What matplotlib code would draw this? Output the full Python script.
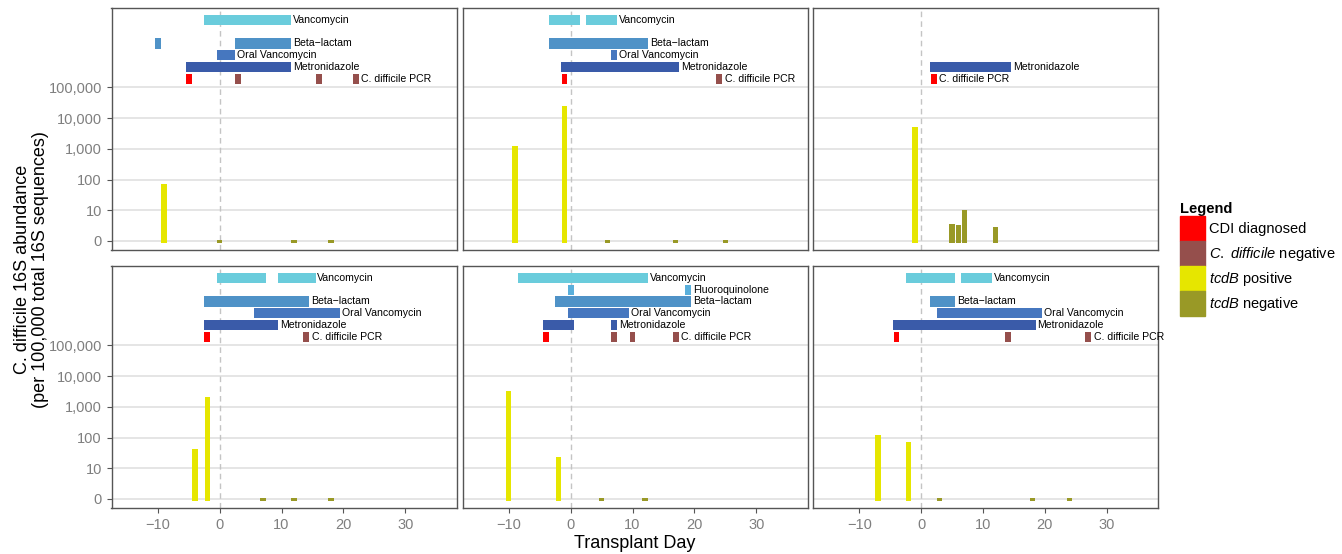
import numpy as np
import matplotlib
matplotlib.use("Agg")
import matplotlib.pyplot as plt
from matplotlib.patches import Patch

plt.rcParams['font.family'] = ['Liberation Sans', 'DejaVu Sans']
plt.rcParams['mathtext.fontset'] = 'custom'
plt.rcParams['mathtext.it'] = 'Liberation Sans:italic'
plt.rcParams['mathtext.rm'] = 'Liberation Sans'

# treatment courses per panel (first day, last day), panels in reading order
vanc = [[(-2, 11)], [(-3, 1), (3, 7)], [], [(0, 7), (10, 15)], [(-8, 12)], [(-2, 5), (7, 11)]]
fluoro = [[], [], [], [], [(0, 0), (19, 19)], []]
beta = [[(-10, -10), (3, 11)], [(-3, 12)], [], [(-2, 14)], [(-2, 19)], [(2, 5)]]
oral_vanc = [[(0, 2)], [(7, 7)], [], [(6, 19)], [(0, 9)], [(3, 19)]]
metro = [[(-5, 11)], [(-1, 17)], [(2, 14)], [(-2, 9)], [(-4, 0), (7, 7)], [(-4, 18)]]

# C. difficile PCR results
cdi_day = [-5, -1, 2, -2, -4, -4]
pcr_neg_days = [[3, 16, 22], [24], [], [14], [7, 10, 17], [14, 27]]

# 16S samples
sample_days = [[-9, 0, 12, 18], [-9, -1, 6, 17, 25], [-1, 5, 6, 7, 12],
               [-4, -2, 7, 12, 18], [-10, -2, 5, 12], [-7, -2, 3, 18, 24]]
abundance = [[73, 0, 0, 0], [1230, 24500, 0, 0, 0], [5150, 2.7, 2.2, 9.5, 1.9],
             [42, 2050, 0, 0, 0], [3350, 23, 0, 0], [122, 70, 0, 0, 0]]
tcdb_pos = [[1, 0, 0, 0], [1, 1, 0, 0, 0], [1, 0, 0, 0, 0],
            [1, 1, 0, 0, 0], [1, 1, 0, 0], [1, 1, 0, 0, 0]]

ytick_labels = ['0', '10', '100', '1,000', '10,000', '100,000']
xticks = [-10, 0, 10, 20, 30]

row_names = ['Metronidazole', 'Oral Vancomycin', 'Beta\u2212lactam', 'Fluoroquinolone', 'Vancomycin']
row_colors = ['#3a5ba9', '#4677bf', '#4f92c7', '#5aafdb', '#6accdc']
c_red, c_brown, c_yellow, c_olive = '#ff0000', '#954f4c', '#e6e600', '#999926'

W, H = 1342, 554
fig = plt.figure(figsize=(W / 100, H / 100), dpi=100)

lefts = [111.5, 462.5, 813]
tops = [8.3, 266.3]
pw, ph = 345, 241.6
row0 = 5.27
rstep = 0.385
rh = 0.33

for i in range(6):
    r, c = divmod(i, 3)
    l, t = lefts[c], tops[r]
    ax = fig.add_axes([l / W, 1 - (t + ph) / H, pw / W, ph / H])
    ax.set_xlim(-17.5, 38.3)
    ax.set_ylim(-0.29, 7.57)
    ax.set_yticks(range(6))
    ax.set_xticks(xticks)
    ax.yaxis.grid(True, color='#dedede', lw=1.1, zorder=0)
    ax.set_axisbelow(True)
    for s in ax.spines.values():
        s.set_color('#555555')
        s.set_linewidth(1.0)
    ax.axvline(0, color='#c4c4c4', lw=1.0, ls=(0, (4, 3)), zorder=1)

    # abundance bars
    vals = np.log10(np.array(abundance[i], dtype=float) + 1)
    cols = [c_yellow if p else c_olive for p in tcdb_pos[i]]
    ax.bar(sample_days[i], np.maximum(vals, 0.03) + 0.07, bottom=-0.07,
           width=0.85, color=cols, zorder=3)

    # PCR row
    y = row0
    ax.barh(y, 0.95, left=cdi_day[i] - 0.475, height=rh, color=c_red, zorder=3)
    if pcr_neg_days[i]:
        ax.barh([y] * len(pcr_neg_days[i]), 0.95,
                left=np.array(pcr_neg_days[i]) - 0.475, height=rh, color=c_brown, zorder=3)
    last = max([cdi_day[i]] + pcr_neg_days[i])
    ax.text(last + 0.9, y, 'C. difficile PCR', fontsize=7.6, va='center', ha='left')

    # treatment rows
    for k, courses in enumerate([metro, oral_vanc, beta, fluoro, vanc]):
        segs = courses[i]
        if not segs:
            continue
        y = row0 + (k + 1) * rstep
        starts = np.array([a for a, b in segs]) - 0.5
        lens = np.array([b - a + 1 for a, b in segs])
        ax.barh([y] * len(segs), lens, left=starts, height=rh, color=row_colors[k], zorder=3)
        ax.text(max(b for a, b in segs) + 0.8, y, row_names[k], fontsize=7.6, va='center', ha='left')

    ax.tick_params(colors='#555555', labelcolor='#7f7f7f', labelsize=10.5, length=3.5, width=0.8)
    if c == 0:
        ax.set_yticklabels(ytick_labels)
    else:
        ax.tick_params(axis='y', length=0, labelleft=False)
    if r == 1:
        ax.set_xticklabels([str(x).replace('-', '\u2212') for x in xticks])
    else:
        ax.tick_params(axis='x', length=0, labelbottom=False)

fig.text(0.0235, 0.513, 'C. difficile 16S abundance\n(per 100,000 total 16S sequences)',
         rotation=90, ha='center', va='center', fontsize=13, multialignment='center',
         linespacing=1.05)
fig.text(635 / W, 1 - 543 / H, 'Transplant Day', ha='center', va='center', fontsize=13)

handles = [Patch(color=c_red), Patch(color=c_brown), Patch(color=c_yellow), Patch(color=c_olive)]
labels = ['CDI diagnosed', r'$\mathit{C.}$ $\mathit{difficile}$ negative',
          r'$\mathit{tcdB}$ positive', r'$\mathit{tcdB}$ negative']
leg = fig.legend(handles, labels, loc='upper left', bbox_to_anchor=(1174 / W, 1 - 196 / H),
                 frameon=False, fontsize=10.5, handlelength=1.7, handleheight=2.26,
                 labelspacing=0, handletextpad=0.3, borderaxespad=0, title='Legend',
                 title_fontproperties={'weight': 'bold', 'size': 10.5}, alignment='left')

fig.savefig('out.png', dpi=100)
